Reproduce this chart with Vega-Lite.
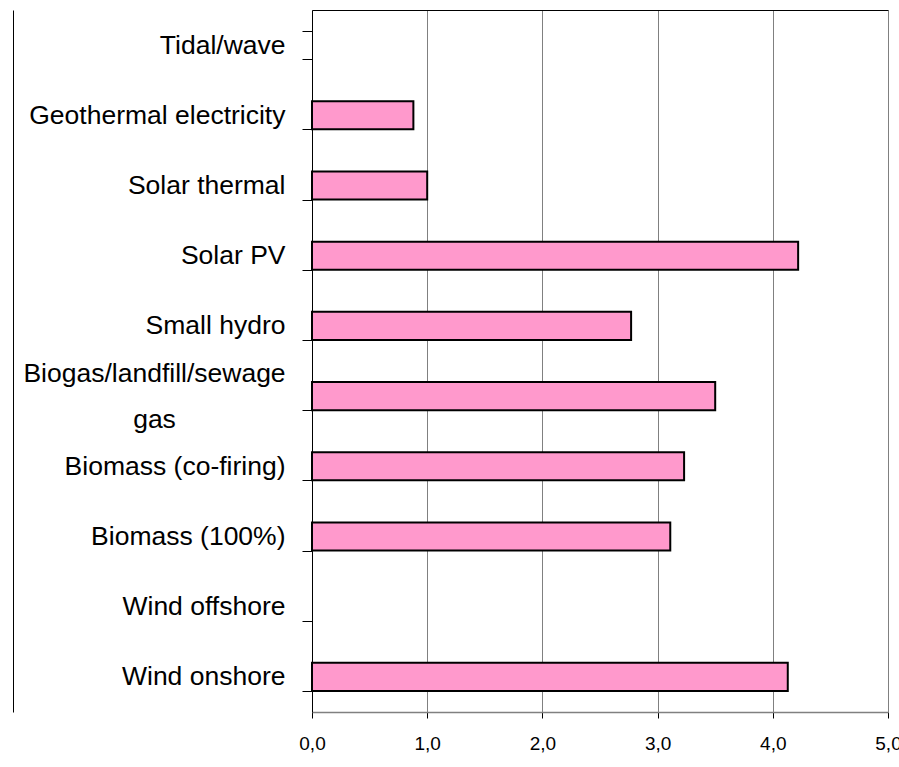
{
  "$schema": "https://vega.github.io/schema/vega-lite/v6.json",
  "width": 576,
  "height": 702,
  "autosize": {"type": "none"},
  "padding": {"left": 312, "top": 10, "right": 11, "bottom": 55},
  "background": "white",
  "config": {"view": {"stroke": null}},
  "data": {
    "values": [
      {"source": "Tidal/wave", "value": null},
      {"source": "Geothermal electricity", "value": 0.88},
      {"source": "Solar thermal", "value": 1.0},
      {"source": "Solar PV", "value": 4.22},
      {"source": "Small hydro", "value": 2.77},
      {"source": "Biogas/landfill/sewage gas", "value": 3.5},
      {"source": "Biomass (co-firing)", "value": 3.23},
      {"source": "Biomass (100%)", "value": 3.11},
      {"source": "Wind offshore", "value": null},
      {"source": "Wind onshore", "value": 4.13}
    ]
  },
  "resolve": {"axis": {"x": "independent", "y": "independent"}},
  "layer": [
    {
      "mark": {"type": "bar", "fill": "#FF99CC", "stroke": "#000000", "strokeWidth": 2},
      "encoding": {
        "y": {
          "field": "source",
          "type": "nominal",
          "scale": {
            "domain": ["Tidal/wave", "Geothermal electricity", "Solar thermal", "Solar PV", "Small hydro", "Biogas/landfill/sewage gas", "Biomass (co-firing)", "Biomass (100%)", "Wind offshore", "Wind onshore"],
            "paddingInner": 0.6,
            "paddingOuter": 0.3
          },
          "axis": {
            "title": null,
            "tickBand": "extent",
            "tickSize": 10,
            "tickColor": "#000000",
            "domainColor": "#000000",
            "domainWidth": 1,
            "labelFont": "Liberation Sans, Arial, sans-serif",
            "labelFontSize": 26.5,
            "labelColor": "#000000",
            "labelPadding": {"condition": {"test": "datum.value == 'Biogas/landfill/sewage gas'", "value": 148}, "value": 17},
            "labelAlign": {"condition": {"test": "datum.value == 'Biogas/landfill/sewage gas'", "value": "center"}, "value": "right"},
            "labelOffset": {"condition": {"test": "datum.value == 'Biogas/landfill/sewage gas'", "value": -23}, "value": 0},
            "labelLimit": 400,
            "labelLineHeight": 46,
            "labelExpr": "datum.value == 'Biogas/landfill/sewage gas' ? ['Biogas/landfill/sewage', 'gas'] : datum.value"
          }
        },
        "x": {
          "field": "value",
          "type": "quantitative",
          "scale": {"domain": [0, 5], "nice": false},
          "axis": {
            "title": null,
            "values": [0, 1, 2, 3, 4, 5],
            "grid": true,
            "gridColor": "#808080",
            "gridWidth": 1,
            "gridOpacity": 1,
            "domainColor": "#808080",
            "domainWidth": 1.5,
            "tickColor": "#000000",
            "tickSize": 6,
            "labelFont": "Liberation Sans, Arial, sans-serif",
            "labelFontSize": 19,
            "labelColor": "#000000",
            "labelPadding": 16,
            "labelFlush": false,
            "labelExpr": "replace(format(datum.value, '.1f'), '.', ',')"
          }
        }
      }
    },
    {
      "mark": {"type": "bar", "opacity": 0},
      "encoding": {
        "y": {
          "field": "source",
          "type": "nominal",
          "scale": {
            "domain": ["Tidal/wave", "Geothermal electricity", "Solar thermal", "Solar PV", "Small hydro", "Biogas/landfill/sewage gas", "Biomass (co-firing)", "Biomass (100%)", "Wind offshore", "Wind onshore"]
          },
          "axis": {
            "orient": "left",
            "title": null,
            "labels": false,
            "ticks": false,
            "domainColor": "#000000",
            "domainWidth": 1,
            "offset": 299
          }
        },
        "x": {
          "field": "value",
          "type": "quantitative",
          "axis": {
            "orient": "top",
            "title": null,
            "labels": false,
            "ticks": false,
            "grid": false,
            "domainColor": "#000000",
            "domainWidth": 1
          }
        }
      }
    }
  ]
}
